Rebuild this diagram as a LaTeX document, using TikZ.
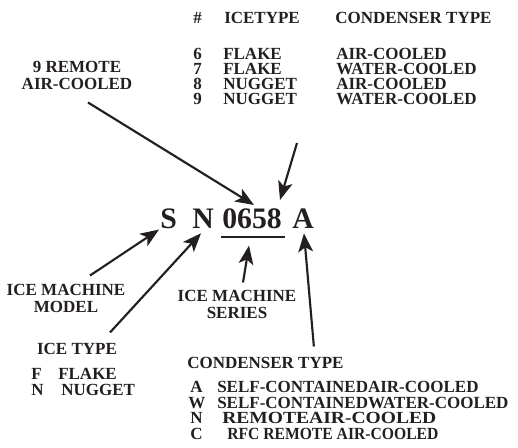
\documentclass[tikz,border=0pt]{standalone}
\usepackage{fontspec}
\setmainfont{Liberation Serif}
\usetikzlibrary{arrows.meta,calc}
\definecolor{ink}{HTML}{231F20}

\tikzset{
  lbl/.style={font=\bfseries\fontsize{12.75}{12.75}\selectfont, text=ink, inner sep=0pt},
  big/.style={font=\bfseries\fontsize{22.3}{24}\selectfont, text=ink, inner sep=0pt, anchor=base west},
  pointer/.style={draw=ink, line width=1.6pt, -{Stealth[length=14pt,width=11pt,inset=3.5pt]}}
}

\begin{document}
\begin{tikzpicture}[x=0.75pt,y=-0.75pt]
\fill[white] (0,0) rectangle (518,447);
\useasboundingbox (0,0) rectangle (518,447);

% model number
\node[big] (S) at (160,228) {S};
\node[big] (N) at (192,228) {N};
\node[big] (digits) at (222,228) {0658};
\node[big] (A) at (292,228) {A};
\draw[ink, line width=1.5pt] ($(digits.base west)+(-1,9)$) -- ($(digits.base east)+(3,9)$);

% table of series numbers
\node[lbl, anchor=base west] (hnum) at (193,23) {\#};
\node[lbl, anchor=base west] (hice) at (224,23) {ICETYPE};
\node[lbl, anchor=base west] (hcond) at (335,23) {CONDENSER TYPE};
\foreach \digit/\ice/\cond [count=\i] in {6/FLAKE/AIR-COOLED, 7/FLAKE/WATER-COOLED, 8/NUGGET/AIR-COOLED, 9/NUGGET/WATER-COOLED}
{
  \node[lbl, anchor=base west] (row\i num) at (193,44+15*\i) {\digit};
  \node[lbl, anchor=base west] (row\i ice) at (223,44+15*\i) {\ice};
  \node[lbl, anchor=base west] (row\i cond) at (336,44+15*\i) {\cond};
}

% labels
\node[lbl, align=center] (remote) at (77,75) {9 REMOTE\\AIR-COOLED};
\node[lbl, align=center] (model) at (66,298) {ICE MACHINE\\MODEL};
\node[lbl, align=center] (series) at (237,304) {ICE MACHINE\\SERIES};
\node[lbl, anchor=base] (icetype) at (77,354) {ICE TYPE};
\node[lbl, anchor=base west] (fkey) at (31,379) {F};
\node[lbl, anchor=base west] (fname) at (58,379) {FLAKE};
\node[lbl, anchor=base west] (nkey) at (31,395) {N};
\node[lbl, anchor=base west] (nname) at (61,395) {NUGGET};
\node[lbl, anchor=base west] (condtype) at (187,368) {CONDENSER TYPE};
\node[lbl, anchor=base west] (akey) at (190,392) {A};
\node[lbl, anchor=base west] (aname) at (217,392) {SELF-CONTAINEDAIR-COOLED};
\node[lbl, anchor=base west] (wkey) at (188,408) {W};
\node[lbl, anchor=base west] (wname) at (217,408) {SELF-CONTAINEDWATER-COOLED};
\node[lbl, anchor=base west] (nrkey) at (190,423) {N};
\node[lbl, anchor=base west] (nrname) at (222,423) {\scalebox{1.15}[1]{REMOTEAIR-COOLED}};
\node[lbl, anchor=base west] (ckey) at (190,439) {C};
\node[lbl, anchor=base west] (cname) at (227,439) {\scalebox{0.92}[1]{RFC REMOTE AIR-COOLED}};

% pointers
\coordinate (tabletail) at (297,143);
\draw[pointer] ($(remote.south)+(11,13)$) -- ($(digits.north)+(2,-3)$);
\draw[pointer] (tabletail) -- ($(digits.north east)+(-2,-8)$);
\draw[pointer] ($(model.north)+(24,-8)$) -- ($(S.south west)+(-1,1)$);
\draw[pointer] ($(icetype.north)+(33,-10)$) -- ($(N.south)+(-2,5)$);
\draw[pointer] ($(series.north)+(6,-7)$) -- ($(digits.south)+(-3,17)$);
\draw[pointer] ($(condtype.north east)+(-30,-10)$) -- ($(A.south)+(1,5)$);
\end{tikzpicture}
\end{document}
